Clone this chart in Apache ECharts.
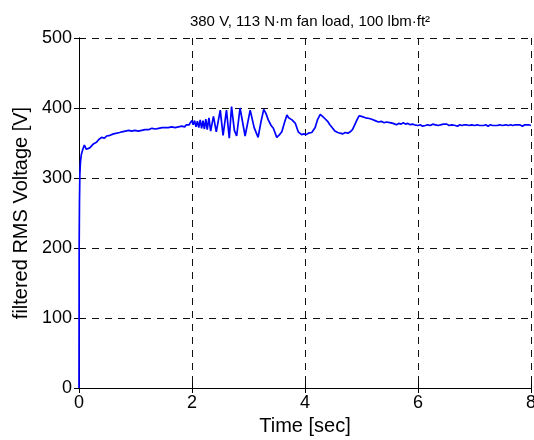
<!DOCTYPE html>
<html>
<head>
<meta charset="utf-8">
<script src="https://cdn.jsdelivr.net/npm/echarts@6/dist/echarts.min.js"></script>
<style>
  html, body { margin: 0; padding: 0; background: #fff; }
  #chart { width: 534px; height: 440px; }
</style>
</head>
<body>
<div id="chart"></div>
<script>
// Filtered RMS voltage during start-up with a fan load
const titleText = '380 V, 113 N·m fan load, 100 lbm·ft²';
const xTicks = [0, 2, 4, 6, 8];
const yTicks = [0, 100, 200, 300, 400, 500];

const timeSec = [
  0, 0.003, 0.008, 0.015, 0.025, 0.04, 0.06, 0.08, 0.095, 0.11, 0.13, 0.15, 0.165, 0.19, 0.22,
  0.26, 0.29, 0.31, 0.35, 0.38, 0.40, 0.45, 0.49, 0.52, 0.55, 0.58, 0.61, 0.63, 0.67, 0.70,
  0.72, 0.76, 0.79, 0.82, 0.85, 0.88, 0.91, 0.93, 0.96, 0.99, 1.02, 1.05, 1.08, 1.11, 1.14,
  1.17, 1.20, 1.23, 1.26, 1.29, 1.32, 1.35, 1.38, 1.41, 1.44, 1.47, 1.50, 1.53, 1.56, 1.58,
  1.61, 1.64, 1.67, 1.70, 1.73, 1.76, 1.79, 1.82, 1.85, 1.87, 1.90, 1.93, 1.95, 1.97, 2.0,
  2.02, 2.045, 2.07, 2.095, 2.12, 2.145, 2.17, 2.195, 2.22, 2.245, 2.27, 2.30, 2.33, 2.38,
  2.43, 2.50, 2.55, 2.61, 2.66, 2.70, 2.75, 2.79, 2.85, 2.94, 3.03, 3.10, 3.17, 3.22, 3.27,
  3.31, 3.35, 3.40, 3.44, 3.50, 3.55, 3.59, 3.64, 3.68, 3.71, 3.73, 3.77, 3.80, 3.83, 3.88,
  3.94, 3.98, 4.02, 4.06, 4.09, 4.12, 4.15, 4.18, 4.22, 4.27, 4.31, 4.35, 4.40, 4.44, 4.49,
  4.53, 4.58, 4.62, 4.67, 4.71, 4.76, 4.80, 4.84, 4.88, 4.92, 4.96, 5.00, 5.03, 5.07, 5.10,
  5.14, 5.18, 5.21, 5.24, 5.27, 5.30, 5.35, 5.40, 5.44, 5.47, 5.50, 5.53, 5.56, 5.59, 5.62,
  5.66, 5.70, 5.74, 5.78, 5.82, 5.86, 5.90, 5.94, 5.97, 6.00, 6.04, 6.08, 6.13, 6.17, 6.22,
  6.26, 6.31, 6.36, 6.40, 6.45, 6.51, 6.55, 6.60, 6.66, 6.70, 6.74, 6.78, 6.82, 6.86, 6.90,
  6.95, 7.00, 7.05, 7.09, 7.12, 7.16, 7.20, 7.24, 7.28, 7.32, 7.35, 7.40, 7.45, 7.49, 7.52,
  7.56, 7.60, 7.64, 7.68, 7.72, 7.75, 7.80, 7.85, 7.89, 7.92, 7.96, 8.0
];

const voltage = [
  0, 200, 262, 305, 322, 333, 339, 344, 347, 345, 341, 339, 340, 343, 345,
  349, 348, 351, 355, 353, 358, 357, 360, 359, 361, 361, 363, 362, 364, 363,
  365, 366, 364, 367, 366, 368, 366, 367, 369, 368, 369, 367, 369, 368, 370,
  369, 371, 369, 370, 371, 369, 370, 372, 371, 370, 372, 371, 372, 370, 372,
  371, 373, 371, 372, 374, 373, 372, 374, 375, 373, 376, 377, 376, 379, 382,
  376, 382, 373, 381, 372, 383, 371, 382, 370, 384, 369, 386, 367, 388,
  366, 397, 361, 397, 357, 402, 368, 360, 400, 360, 397, 372, 358, 380, 398,
  392, 383, 375, 371, 358, 362, 366, 380, 390, 386, 387, 383, 381, 378, 366,
  362, 363, 362, 364, 363, 365, 366, 372, 383, 391, 388, 385, 381, 376, 371,
  367, 365, 364, 363, 365, 364, 366, 369, 376, 383, 389, 388, 388, 386, 386,
  385, 384, 383, 382, 381, 380, 381, 379, 380, 378, 379, 377, 378, 377, 376,
  378, 377, 379, 377, 378, 376, 377, 376, 377, 375, 376, 374, 375, 376, 375,
  377, 376, 375, 376, 377, 377, 375, 376, 375, 374, 376, 375, 376, 376, 375,
  376, 375, 376, 375, 376, 375, 376, 374, 376, 375, 376, 375, 376, 375, 374,
  376, 375, 376, 375, 376, 375, 376, 374, 376, 375, 376, 375
];

const series = timeSec.map((t, i) => [t, voltage[i]]);

const font = '"Liberation Sans", Arial, Helvetica, sans-serif';
const gridDash = { color: '#111', width: 1, type: [7, 6] };

const chart = echarts.init(document.getElementById('chart'), null, { renderer: 'canvas' });
chart.setOption({
  animation: false,
  backgroundColor: '#fff',
  title: {
    text: titleText,
    left: 305,
    textAlign: 'center',
    top: 9,
    textStyle: { fontFamily: font, fontSize: 15, fontWeight: 'normal', color: '#000' }
  },
  grid: { left: 79, right: 3, top: 38, bottom: 52, show: false, outerBoundsMode: 'none', containLabel: false },
  xAxis: [
    {
      type: 'value', min: xTicks[0], max: xTicks[xTicks.length - 1], interval: 2,
      name: 'Time [sec]', nameLocation: 'middle', nameGap: 28,
      nameTextStyle: { fontFamily: font, fontSize: 20, color: '#000' },
      axisLine: { show: true, lineStyle: { color: '#000', width: 1 } },
      axisTick: { show: true, inside: true, length: 5, lineStyle: { color: '#000' } },
      axisLabel: { fontFamily: font, fontSize: 18, color: '#000', margin: 6 },
      splitLine: { show: true, lineStyle: gridDash }
    },
    {
      type: 'value', position: 'top', min: xTicks[0], max: xTicks[xTicks.length - 1], interval: 2,
      axisLine: { show: true, lineStyle: { color: '#000', width: 1 } },
      axisTick: { show: true, inside: true, length: 5, lineStyle: { color: '#000' } },
      axisLabel: { show: false },
      splitLine: { show: false }
    }
  ],
  yAxis: [
    {
      type: 'value', min: yTicks[0], max: yTicks[yTicks.length - 1], interval: 100,
      name: 'filtered RMS Voltage [V]', nameLocation: 'middle', nameGap: 46,
      nameTextStyle: { fontFamily: font, fontSize: 20, color: '#000' },
      axisLine: { show: true, lineStyle: { color: '#000', width: 1 } },
      axisTick: { show: true, inside: true, length: 5, lineStyle: { color: '#000' } },
      axisLabel: { fontFamily: font, fontSize: 18, color: '#000', margin: 7 },
      splitLine: { show: true, lineStyle: gridDash }
    },
    {
      type: 'value', position: 'right', min: yTicks[0], max: yTicks[yTicks.length - 1], interval: 100,
      axisLine: { show: true, lineStyle: { color: '#000', width: 1 } },
      axisTick: { show: true, inside: true, length: 5, lineStyle: { color: '#000' } },
      axisLabel: { show: false },
      splitLine: { show: false }
    }
  ],
  series: [
    {
      type: 'line',
      data: series,
      showSymbol: false,
      symbol: 'none',
      lineStyle: { color: '#0000ff', width: 1.7 },
      z: 3
    }
  ]
});
</script>
</body>
</html>
